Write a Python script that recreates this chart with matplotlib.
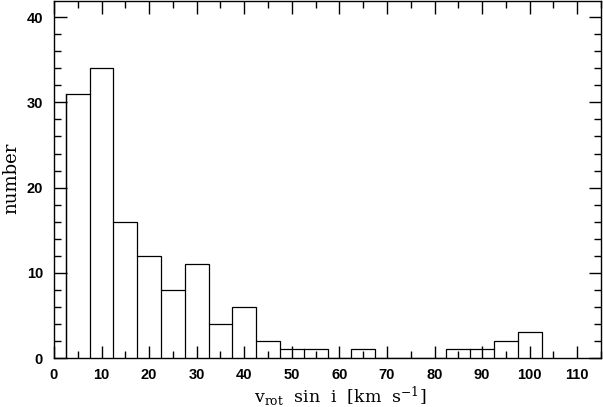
import matplotlib
matplotlib.use("Agg")
import matplotlib.pyplot as plt
import numpy as np

# histogram of v sin i, bins 5 km/s wide starting at 2.5
bin_edges = np.arange(2.5, 105, 5.0)
counts = [31, 34, 16, 12, 8, 11, 4, 6, 2, 1, 1, 0, 1, 0, 0, 0, 1, 1, 2, 3]

plt.rcParams["mathtext.fontset"] = "dejavuserif"

fig = plt.figure(figsize=(6.03, 4.07), dpi=100)
ax = fig.add_axes([54 / 603, (407 - 358) / 407, (601 - 54) / 603, (358 - 1) / 407])

ax.stairs(counts, bin_edges, fill=False, color="black", lw=0.9)
for e, c0, c1 in zip(bin_edges[1:-1], counts[:-1], counts[1:]):
    h = min(c0, c1)
    if h > 0:
        ax.plot([e, e], [0, h], color="black", lw=0.9)
ax.plot([bin_edges[0], bin_edges[0]], [0, counts[0]], color="black", lw=0.9)

ax.set_xlim(0, 115)
ax.set_ylim(0, 41.9)
ax.set_xticks(np.arange(0, 111, 10))
ax.set_xticks(np.arange(0, 116, 5), minor=True)
ax.set_yticks(np.arange(0, 41, 10))
ax.set_yticks(np.arange(0, 42, 2), minor=True)
ax.tick_params(which="both", direction="in", top=True, right=True, width=1.0)
ax.tick_params(which="major", length=9, labelsize=10.5)
ax.tick_params(axis="x", which="major", pad=7)
ax.tick_params(axis="y", which="major", pad=8)
ax.tick_params(which="minor", length=5)
for lab in ax.get_xticklabels() + ax.get_yticklabels():
    lab.set_fontfamily("Liberation Sans")
    lab.set_fontweight("bold")
for sp in ax.spines.values():
    sp.set_linewidth(1.0)

fig.text(340 / 603, 5 / 407, r"v$_{\rm rot}$  sin  i  [km  s$^{-1}$]",
         family="DejaVu Serif", fontsize=12.5, ha="center", va="baseline")
fig.text(2 / 603, (407 - 178) / 407, "number", family="DejaVu Serif", fontsize=13,
         rotation=90, ha="left", va="center")

fig.savefig("out.png", dpi=100)
